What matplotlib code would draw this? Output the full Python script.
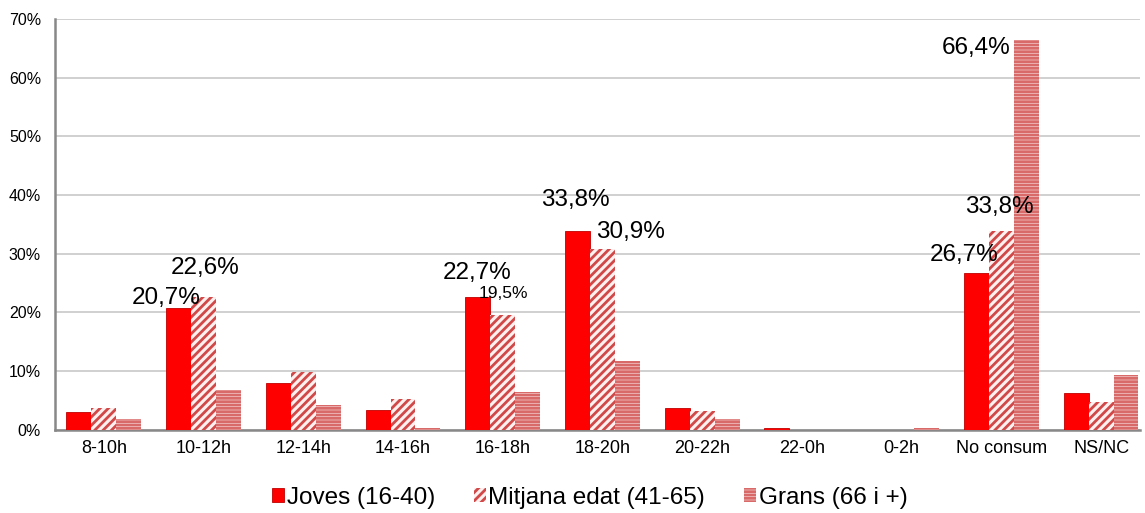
import matplotlib
matplotlib.use('Agg')
import matplotlib.pyplot as plt
import numpy as np

categories = ['8-10h', '10-12h', '12-14h', '14-16h', '16-18h', '18-20h',
              '20-22h', '22-0h', '0-2h', 'No consum', 'NS/NC']
series = ['Joves (16-40)', 'Mitjana edat (41-65)', 'Grans (66 i +)']
joves = [3.1, 20.7, 8.0, 3.4, 22.7, 33.8, 3.8, 0.4, 0.0, 26.7, 6.2]
mitjana = [3.8, 22.6, 9.8, 5.3, 19.5, 30.9, 3.2, 0.0, 0.0, 33.8, 4.8]
grans = [1.8, 6.8, 4.3, 0.3, 6.4, 11.8, 1.8, 0.0, 0.3, 66.4, 9.3]

# labels shown in the chart: (series index, category index, text, dx px, dy px, size)
labels = [
    (0, 1, '20,7%', -12, 10, 17.5),
    (1, 1, '22,6%', 2, 29, 17.5),
    (0, 4, '22,7%', -1, 24, 17.5),
    (1, 4, '19,5%', 1, 22, 12.5),
    (0, 5, '33,8%', -2, 31, 17.5),
    (1, 5, '30,9%', 28, 17, 17.5),
    (2, 9, '66,4%', -50, -8, 17.5),
    (1, 9, '33,8%', -2, 24, 17.5),
    (0, 9, '26,7%', -12, 18, 17.5),
]

plt.rcParams['font.family'] = ['Liberation Sans', 'DejaVu Sans']
plt.rcParams['hatch.linewidth'] = 2.0

fig = plt.figure(figsize=(11.45, 5.13), dpi=100)
ax = fig.add_axes([0.048, 0.162, 0.9476, 0.801])

x = np.arange(len(categories))
w = 0.25
styles = [
    dict(color='#ff0000', edgecolor='#c00000', linewidth=0.6),
    dict(facecolor='#fff0f0', edgecolor='#d04848', hatch='////', linewidth=0.0),
    dict(facecolor='#fbe4e4', edgecolor='#d86a6a', hatch='-----', linewidth=0.0),
]
data = [joves, mitjana, grans]
bars = []
for i, (vals, st) in enumerate(zip(data, styles)):
    b = ax.bar(x + (i - 1) * w, vals, w, label=series[i], zorder=3, **st)
    bars.append(b)

for si, ci, txt, dx, dy, fs in labels:
    xc = x[ci] + (si - 1) * w
    ax.annotate(txt, (xc, data[si][ci]), xytext=(dx, dy), textcoords='offset pixels',
                ha='center', va='center', fontsize=fs, zorder=5)

ax.set_xlim(-0.49, 10.39)
ax.set_ylim(0, 70)
ax.set_yticks(np.arange(0, 71, 10))
ax.set_yticklabels([f'{v}%' for v in range(0, 71, 10)], fontsize=11.5)
ax.set_xticks(x)
ax.set_xticklabels(categories, fontsize=13)
ax.tick_params(length=0)
ax.tick_params(axis='x', pad=7)
ax.tick_params(axis='y', pad=10)
ax.yaxis.grid(True, color='#c8c8c8', linewidth=1.2, zorder=0)
ax.set_axisbelow(True)
for s in ['top', 'right']:
    ax.spines[s].set_visible(False)
for s in ['left', 'bottom']:
    ax.spines[s].set_color('#888888')
    ax.spines[s].set_linewidth(1.8)

fig.legend(handles=bars, labels=series, loc='center', bbox_to_anchor=(0.515, 0.03),
           ncol=3, frameon=False, fontsize=17.5, handlelength=0.5, handleheight=0.5,
           handletextpad=0.1, columnspacing=1.6)

fig.savefig('out.png', dpi=100)
